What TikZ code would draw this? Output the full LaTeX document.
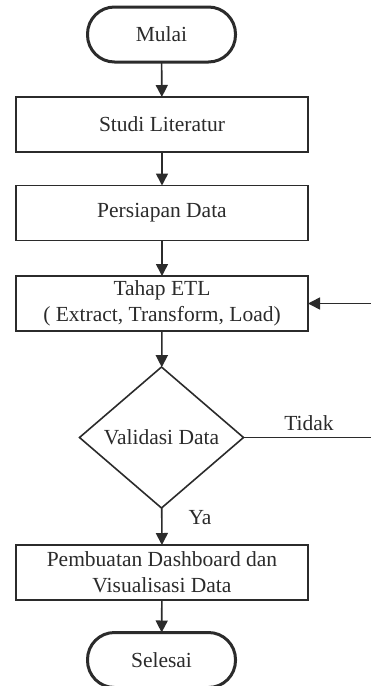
\documentclass[tikz,border=0pt]{standalone}
\usepackage{fontspec}
\setmainfont{Liberation Serif}
\usetikzlibrary{shapes.geometric,arrows.meta}
\definecolor{ink}{HTML}{2B2B2B}
\begin{document}
\begin{tikzpicture}[x=1pt,y=-1pt,
  every node/.style={font=\fontsize{21.5}{26}\selectfont,text=ink,align=center,inner sep=0pt,outer sep=0pt},
  procbox/.style={draw=ink,line width=1.6pt,rectangle,minimum width=292pt,minimum height=55pt},
  termbox/.style={draw=ink,line width=3pt,rectangle,rounded corners=27pt,minimum width=148pt,minimum height=55pt},
  decbox/.style={draw=ink,line width=1.6pt,diamond,minimum width=164pt,minimum height=141pt,aspect=1.16},
  flow/.style={draw=ink,line width=1.6pt,-{Triangle[length=12pt,width=12pt]}},
  plainline/.style={draw=ink,line width=1.6pt}]
\useasboundingbox (0,0) rectangle (371,686);
\node[termbox] (mulai) at (161.5,34.5) {Mulai};
\node[procbox] (studi) at (162,124.5) {Studi Literatur};
\node[procbox] (persiapan) at (162,213) {Persiapan Data};
\node[procbox] (etl) at (162,303.5) {Tahap ETL\\( Extract, Transform, Load)};
\node[decbox] (valid) at (161.5,437.5) {Validasi Data};
\node[procbox] (buat) at (162,572.5) {Pembuatan Dashboard dan\\Visualisasi Data};
\node[termbox] (selesai) at (161.5,660) {Selesai};
\coordinate (loop) at (376,0);
\path[flow] (mulai) -- (studi);
\path[flow] (studi) -- (persiapan);
\path[flow] (persiapan) -- (etl);
\path[flow] (etl) -- (valid);
\path[flow] (valid) -- (buat);
\path[flow] (buat) -- (selesai);
\path[plainline] (valid.east) -- (valid.east -| loop);
\path[flow] (valid.east -| loop) -- (etl.east -| loop) -- (etl.east);
\node (tidak) at (309,423) {Tidak};
\node (ya) at (200,518) {Ya};
\end{tikzpicture}
\end{document}
